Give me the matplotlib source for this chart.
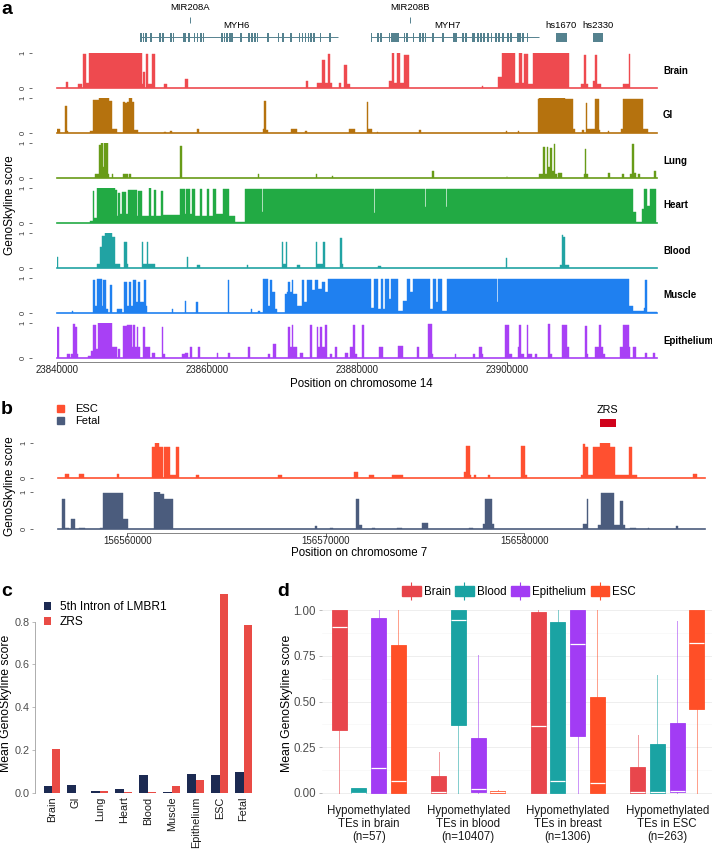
import matplotlib
matplotlib.use("Agg")
import matplotlib.pyplot as plt
from matplotlib.patches import Patch
from matplotlib.lines import Line2D
from matplotlib.legend_handler import HandlerTuple

# ---------------- panel a: chr14 window (segments: start kb, end kb, score; kb from A_START)
A_START = 23840000
A_END = 23920000
a_ticks = [23840000, 23860000, 23880000, 23900000]

brain_a = [(1.2, 1.5, 0.17), (2.8, 3.3, 0.12), (3.4, 3.9, 0.97), (3.9, 4.2, 0.15), (4.2, 11.3, 1.0),
           (11.3, 11.5, 0.1), (11.5, 11.7, 0.45), (11.8, 12.1, 0.98), (12.1, 12.6, 0.1), (12.6, 13.1, 0.98),
           (14.3, 14.6, 0.12), (17.1, 17.4, 0.25), (33.2, 33.5, 0.2), (34.6, 35.3, 0.15), (35.3, 35.7, 0.8),
           (35.7, 36.1, 0.15), (36.1, 36.4, 0.97), (36.4, 36.6, 0.15), (37.6, 37.9, 0.15), (38.3, 38.6, 0.65),
           (38.6, 39.0, 0.1), (44.3, 44.7, 0.2), (44.7, 44.9, 1.0), (44.9, 45.3, 0.15), (45.3, 45.7, 1.0),
           (45.7, 46.3, 0.15), (46.3, 46.9, 0.95), (56.7, 56.85, 0.04), (58.85, 59.3, 0.3), (59.3, 61.1, 1.0),
           (61.1, 61.65, 0.15), (61.65, 61.96, 1.0), (61.96, 62.2, 0.15), (62.2, 62.85, 0.97), (62.85, 63.4, 0.1),
           (63.4, 68.2, 1.0), (69.9, 70.2, 0.1), (70.2, 70.5, 0.95), (70.5, 70.85, 0.1), (71.4, 71.7, 0.2),
           (71.7, 71.96, 0.95), (71.96, 72.5, 0.1), (75.4, 76.2, 0.12), (76.2, 76.4, 0.97)]
gi_a = [(0.0, 0.4, 0.1), (1.07, 1.29, 0.78), (1.29, 1.5, 0.05), (4.4, 4.84, 0.05), (4.84, 5.64, 0.96),
        (5.64, 6.98, 1.0), (6.98, 7.38, 0.92), (7.38, 7.96, 0.1), (8.76, 9.07, 0.9), (9.07, 9.38, 0.85),
        (9.38, 9.64, 0.9), (9.64, 9.96, 1.0), (9.96, 10.27, 0.9), (10.27, 10.84, 0.08), (14.27, 14.49, 0.03),
        (15.07, 15.38, 0.06), (18.7, 18.9, 0.1), (27.5, 27.6, 0.1), (27.6, 27.8, 0.92), (27.8, 28.1, 0.07),
        (31.2, 31.96, 0.1), (33.07, 33.3, 0.05), (38.9, 39.7, 0.12), (41.3, 41.5, 0.9), (41.5, 41.96, 0.1),
        (42.7, 42.85, 0.03), (48.2, 48.5, 0.07), (59.8, 59.96, 0.05), (61.4, 61.56, 0.05), (64.1, 64.3, 0.97),
        (64.3, 67.7, 1.0), (67.7, 68.85, 0.97), (68.85, 69.0, 0.1), (69.96, 70.2, 0.08), (70.5, 70.7, 0.85),
        (70.7, 71.7, 0.1), (71.7, 72.2, 0.97), (72.2, 72.4, 0.08), (73.4, 73.65, 0.05), (75.2, 75.4, 0.1),
        (75.4, 78.1, 0.98), (78.1, 78.8, 0.12)]
lung_a = [(5.07, 5.64, 0.1), (5.64, 5.87, 0.95), (5.87, 6.09, 1.0), (6.09, 6.31, 0.3), (6.31, 6.84, 1.0),
          (6.84, 6.98, 0.1), (7.29, 7.51, 0.1), (8.84, 9.51, 0.1), (9.64, 9.87, 0.1), (16.44, 16.62, 0.93),
          (26.76, 26.93, 0.1), (34.53, 34.71, 0.1), (36.67, 36.8, 0.05), (50.0, 50.2, 0.2), (59.96, 60.05, 0.05),
          (64.27, 64.85, 0.1), (64.85, 65.07, 0.88), (65.07, 65.3, 0.1), (65.3, 65.5, 0.88), (65.5, 65.74, 0.3),
          (65.74, 65.96, 0.85), (65.96, 66.2, 0.2), (66.2, 66.4, 0.98), (66.4, 66.6, 0.1), (66.85, 67.3, 0.15),
          (70.2, 70.4, 0.1), (70.4, 70.55, 0.83), (70.55, 70.85, 0.1), (73.5, 73.74, 0.15), (75.3, 75.6, 0.1),
          (76.4, 76.6, 0.1), (76.6, 76.9, 0.98), (76.9, 77.2, 0.15), (77.5, 77.7, 0.1), (79.6, 79.8, 0.2)]
heart_a = [(4.4, 4.76, 0.05), (4.76, 4.93, 0.93), (4.93, 5.29, 0.15), (5.29, 7.73, 1.0), (7.73, 7.96, 0.95),
           (7.96, 8.18, 0.2), (8.18, 8.4, 0.87), (8.4, 8.62, 0.25), (8.62, 9.2, 0.88), (9.2, 9.51, 0.25),
           (9.51, 10.62, 0.96), (10.62, 10.84, 0.2), (10.84, 11.29, 0.93), (11.29, 12.27, 0.2), (12.27, 12.49, 1.0),
           (12.49, 12.93, 0.2), (12.93, 13.2, 0.95), (13.2, 13.82, 0.2), (13.82, 14.09, 0.93), (14.09, 16.4, 0.22),
           (16.4, 17.07, 0.97), (17.07, 17.2, 0.25), (17.2, 17.73, 0.97), (17.73, 17.96, 0.25), (17.96, 18.4, 0.97),
           (18.4, 19.07, 0.2), (19.07, 19.29, 0.97), (19.29, 19.96, 0.2), (19.96, 20.31, 0.97), (20.31, 20.84, 0.2),
           (20.84, 21.2, 0.97), (21.2, 22.09, 0.25), (22.09, 22.98, 0.97), (22.98, 23.73, 0.2), (23.73, 25.07, 0.02),
           (25.07, 27.29, 0.98), (27.29, 27.51, 0.3), (27.51, 42.3, 0.98), (42.3, 42.45, 0.27), (42.45, 49.1, 0.98),
           (49.1, 49.25, 0.45), (49.25, 51.8, 0.98), (51.8, 51.95, 0.45), (51.95, 76.85, 0.98), (76.85, 77.2, 0.3),
           (77.2, 77.96, 0.02), (77.96, 78.2, 0.4), (78.2, 78.6, 0.98), (78.6, 79.07, 0.5), (79.07, 79.87, 0.97)]
blood_a = [(0.0, 0.1, 0.3), (5.29, 5.73, 0.1), (5.73, 5.96, 0.6), (5.96, 6.4, 0.92), (6.4, 7.29, 1.0),
           (7.29, 7.73, 0.9), (7.73, 8.4, 0.1), (8.93, 9.38, 0.75), (9.38, 9.51, 0.1), (11.29, 11.51, 0.75),
           (11.51, 11.96, 0.1), (11.96, 12.18, 0.75), (12.18, 13.07, 0.1), (17.29, 17.47, 0.3), (18.62, 19.07, 0.08),
           (25.29, 25.51, 0.08), (29.96, 30.18, 0.75), (30.18, 30.53, 0.1), (30.53, 30.71, 0.75), (31.96, 32.4, 0.08),
           (34.53, 34.71, 0.75), (34.71, 35.51, 0.1), (35.51, 35.73, 0.75), (37.73, 37.96, 0.85), (37.96, 38.18, 0.1),
           (42.85, 43.2, 0.05), (59.87, 60.05, 0.28), (67.07, 67.3, 0.07), (67.3, 67.5, 0.95), (67.5, 67.74, 0.9),
           (67.74, 68.2, 0.07)]
muscle_a = [(1.96, 2.18, 0.05), (4.84, 5.07, 0.95), (5.07, 5.29, 0.2), (5.29, 5.96, 0.97), (5.96, 6.18, 0.2),
            (6.18, 6.53, 0.95), (6.53, 6.76, 0.1), (7.07, 7.29, 0.8), (7.96, 8.62, 0.1), (8.93, 9.29, 0.9),
            (9.29, 9.6, 0.2), (9.6, 9.87, 0.9), (9.87, 10.18, 0.2), (10.18, 10.53, 0.95), (10.53, 10.84, 0.3),
            (10.84, 11.07, 0.9), (11.07, 11.6, 0.3), (11.6, 11.87, 0.95), (11.87, 12.04, 0.2), (15.29, 15.42, 0.1),
            (17.07, 17.2, 0.35), (18.53, 18.8, 0.3), (22.76, 22.98, 0.95), (25.82, 25.96, 0.1), (26.84, 27.07, 0.05),
            (27.51, 28.18, 0.97), (28.18, 28.4, 0.2), (28.4, 28.62, 0.95), (28.62, 29.07, 0.6), (29.07, 29.38, 0.1),
            (30.4, 30.62, 0.55), (30.62, 30.84, 0.6), (30.84, 31.07, 0.9), (31.07, 31.29, 0.6), (31.29, 31.51, 0.95),
            (31.51, 31.96, 0.55), (31.96, 32.62, 0.2), (32.62, 32.93, 0.95), (32.93, 33.29, 0.3), (33.29, 33.96, 0.95),
            (33.96, 34.4, 0.65), (34.4, 34.84, 0.95), (34.84, 35.29, 0.7), (35.29, 35.73, 0.9), (35.73, 36.18, 0.6),
            (36.18, 41.8, 0.97), (41.8, 42.27, 0.15), (42.27, 42.8, 0.97), (42.8, 43.16, 0.1), (43.16, 43.51, 0.97),
            (43.51, 43.78, 0.1), (43.78, 44.31, 0.97), (44.31, 44.58, 0.4), (44.58, 45.51, 0.97), (45.51, 46.18, 0.05),
            (46.18, 46.71, 0.35), (46.71, 47.07, 0.97), (47.07, 47.42, 0.6), (47.42, 49.73, 0.97), (49.73, 50.18, 0.1),
            (50.18, 50.53, 0.97), (50.53, 50.85, 0.3), (50.85, 51.3, 0.97), (51.3, 52.05, 0.05), (52.05, 58.6, 0.97),
            (58.6, 58.85, 0.3), (58.85, 76.2, 0.97), (76.2, 76.85, 0.2), (76.85, 78.2, 0.05), (78.2, 78.4, 0.15),
            (78.4, 78.7, 0.95), (78.7, 79.96, 0.02)]
epithelium_a = [(0.04, 0.31, 0.9), (1.29, 1.73, 0.1), (1.82, 2.09, 0.1), (2.18, 2.4, 0.98), (2.4, 2.62, 0.9),
                (2.62, 2.84, 0.1), (4.18, 4.49, 0.05), (4.49, 4.76, 0.2), (4.76, 5.2, 0.95), (5.2, 5.51, 0.25),
                (5.51, 7.29, 1.0), (7.29, 7.96, 0.3), (8.18, 8.4, 0.25), (8.84, 9.29, 0.91), (9.29, 9.96, 0.95),
                (9.96, 10.18, 0.3), (10.18, 10.4, 0.95), (10.4, 10.62, 0.3), (10.62, 10.84, 0.9), (10.84, 11.07, 0.3),
                (11.51, 11.73, 0.9), (11.73, 12.4, 0.3), (12.62, 13.07, 0.15), (13.96, 14.18, 0.9), (14.18, 14.4, 0.1),
                (16.62, 17.07, 0.1), (17.07, 17.51, 0.15), (17.73, 17.96, 0.3), (18.84, 19.07, 0.3), (21.29, 21.51, 0.15),
                (22.84, 23.07, 0.15), (25.51, 25.73, 0.3), (28.18, 28.4, 0.1), (28.84, 29.2, 0.4), (30.84, 31.07, 0.9),
                (31.07, 31.29, 0.3), (31.29, 31.51, 0.95), (31.51, 31.96, 0.3), (32.4, 32.84, 0.15), (33.73, 33.96, 0.95),
                (34.62, 34.84, 0.9), (34.84, 35.07, 0.3), (35.07, 35.29, 0.9), (35.29, 35.73, 0.3), (35.73, 35.96, 0.95),
                (36.4, 36.62, 0.1), (37.07, 37.29, 0.3), (38.4, 38.84, 0.15), (39.07, 39.5, 0.3), (39.5, 39.7, 0.95),
                (39.7, 39.96, 0.1), (40.6, 40.9, 0.95), (42.98, 43.51, 0.3), (45.51, 46.18, 0.35), (47.96, 48.3, 0.3),
                (49.4, 49.96, 0.97), (49.96, 50.18, 0.1), (53.07, 53.2, 0.1), (55.5, 55.74, 0.1), (56.3, 56.6, 0.3),
                (56.6, 56.85, 0.1), (59.74, 60.3, 0.95), (60.3, 60.6, 0.1), (61.4, 61.6, 0.3), (61.6, 61.83, 0.95),
                (61.83, 62.2, 0.1), (62.6, 62.85, 0.95), (62.85, 63.3, 0.1), (63.74, 63.96, 0.1), (65.5, 65.74, 0.97),
                (65.74, 65.96, 0.1), (67.3, 67.96, 0.96), (67.96, 68.2, 0.3), (70.4, 70.6, 0.92), (70.6, 70.85, 0.1),
                (71.74, 72.2, 0.3), (72.2, 72.5, 0.95), (72.5, 72.76, 0.3), (72.85, 73.07, 0.1), (75.07, 75.5, 0.3),
                (75.5, 76.2, 0.96), (76.2, 76.4, 0.3), (76.85, 77.2, 0.3), (78.4, 78.6, 0.15), (79.5, 79.74, 0.15)]

a_names = ['Brain', 'GI', 'Lung', 'Heart', 'Blood', 'Muscle', 'Epithelium']
a_series = [brain_a, gi_a, lung_a, heart_a, blood_a, muscle_a, epithelium_a]
a_colors = ['#EE4A4F', '#B5720E', '#689B18', '#22AA44', '#21A3A3', '#1F80F0', '#A840F5']

# gene annotation (bp)
myh6_span = (23851000, 23877500)
myh6_exons = [23851100, 23851400, 23851700, 23852400, 23853600, 23854000, 23855100, 23855400, 23856800,
              23857000, 23857500, 23858200, 23858600, 23859100, 23859400, 23861900, 23862200, 23862500,
              23862900, 23863200, 23864400, 23865500, 23865900, 23866300, 23866600, 23868000, 23869400,
              23870000, 23871100, 23872200, 23872600, 23873000, 23873400, 23873700, 23874100, 23875000, 23876300]
myh7_span = (23881800, 23904300)
myh7_exons = [23881800, 23882700, 23883100, 23884200, 23884500, 23884800, 23885100, 23885300, 23886200,
              23886500, 23887400, 23888300, 23888700, 23889000, 23890000, 23891300, 23892800, 23893100,
              23894000, 23894400, 23895300, 23895500, 23896000, 23896400, 23896800, 23897300, 23897800,
              23898400, 23898800, 23899300, 23900000, 23900400, 23901300, 23901600, 23902000, 23902600]
gene_names = ['MYH6', 'MYH7']
gene_label_pos = [23863900, 23892100]
mir_names = ['MIR208A', 'MIR208B']
mir_pos = [23857700, 23887100]
enh_names = ['hs1670', 'hs2330']
enh_start = [23906500, 23911500]
enh_end = [23908000, 23912800]

# ---------------- panel b: chr7 window (kb from B_REF)
B_REF = 156560000
B_START = 156556500
B_END = 156589100
b_ticks = [156560000, 156570000, 156580000]
esc_b = [(-3.15, -2.95, 0.12), (-2.43, -2.18, 0.12), (-0.54, -0.44, 0.12), (1.26, 1.39, 0.87), (1.39, 1.61, 1.0),
         (1.61, 1.81, 0.87), (1.85, 2.12, 0.87), (2.12, 2.45, 0.09), (2.45, 2.62, 0.87), (3.43, 3.59, 0.08),
         (7.61, 7.78, 0.08), (11.39, 11.64, 0.17), (12.19, 12.4, 0.08), (13.32, 13.9, 0.08), (16.98, 17.06, 0.17),
         (17.06, 17.26, 0.92), (17.26, 17.31, 0.1), (17.46, 17.56, 0.1), (18.19, 18.27, 0.1), (19.82, 20.03, 0.92),
         (20.03, 20.12, 0.08), (22.85, 22.97, 0.08), (22.97, 23.06, 0.97), (23.06, 23.22, 0.88), (23.22, 23.44, 0.08),
         (23.44, 23.81, 0.88), (23.81, 24.31, 1.0), (24.31, 24.57, 0.88), (24.57, 25.29, 0.08), (25.29, 25.42, 0.88),
         (25.42, 25.66, 0.08), (28.51, 28.68, 0.12)]
fetal_b = [(-3.31, -3.14, 0.81), (-3.14, -2.94, 0.03), (-2.84, -2.64, 0.26), (-2.43, -2.13, 0.03), (-1.38, -1.21, 0.02),
           (-1.21, -0.2, 0.99), (-0.2, 0.05, 0.27), (1.36, 1.65, 1.0), (1.65, 1.85, 0.95), (1.85, 2.28, 0.81),
           (9.47, 9.54, 0.08), (10.18, 10.38, 0.03), (11.49, 11.69, 0.81), (11.69, 11.8, 0.1), (12.31, 12.48, 0.03),
           (13.57, 13.82, 0.03), (14.83, 15.12, 0.15), (17.23, 17.39, 0.03), (17.93, 18.02, 0.12), (18.02, 18.35, 0.81),
           (18.35, 18.47, 0.12), (22.94, 23.14, 0.12), (23.14, 23.21, 0.81), (23.73, 23.86, 0.1), (23.86, 24.53, 0.99),
           (24.53, 24.82, 0.1), (24.82, 24.99, 0.76), (24.99, 25.05, 0.1), (25.32, 25.61, 0.03), (26.21, 26.29, 0.03),
           (27.64, 27.72, 0.08)]
b_names = ['ESC', 'Fetal']
b_series = [esc_b, fetal_b]
b_colors = ['#FF5030', '#4B5C7D']
zrs_span = (156583800, 156584600)

# ---------------- panel c
c_tissues = ['Brain', 'GI', 'Lung', 'Heart', 'Blood', 'Muscle', 'Epithelium', 'ESC', 'Fetal']
lmbr1_intron = [0.033, 0.037, 0.011, 0.019, 0.084, 0.006, 0.088, 0.085, 0.096]
zrs_score = [0.207, 0.001, 0.011, 0.005, 0.003, 0.033, 0.060, 0.929, 0.785]
c_labels = ['5th Intron of LMBR1', 'ZRS']
c_colors = ['#1C2A52', '#E94B45']

# ---------------- panel d (rows: TE sets, cols: Brain, Blood, Epithelium, ESC)
d_groups = ['Hypomethylated\nTEs in brain\n(n=57)', 'Hypomethylated\nTEs in blood\n(n=10407)',
            'Hypomethylated\nTEs in breast\n(n=1306)', 'Hypomethylated\nTEs in ESC\n(n=263)']
d_tissues = ['Brain', 'Blood', 'Epithelium', 'ESC']
d_colors = ['#E8464C', '#1AA3A3', '#A23CF4', '#FF4F27']
d_q1 = [[0.345, 0.0, 0.0, 0.0], [0.0, 0.37, 0.005, 0.0], [0.0, 0.0, 0.31, 0.0], [0.0, 0.0, 0.005, 0.46]]
d_med = [[0.905, 0.0, 0.135, 0.063], [0.003, 0.948, 0.02, 0.003], [0.365, 0.065, 0.815, 0.055], [0.003, 0.002, 0.012, 0.82]]
d_q3 = [[1.0, 0.025, 0.955, 0.81], [0.09, 1.0, 0.30, 0.01], [0.99, 0.935, 1.0, 0.525], [0.14, 0.27, 0.38, 1.0]]
d_lo = [[0.0, 0.0, 0.0, 0.0], [0.0, 0.0, 0.0, 0.0], [0.0, 0.0, 0.0, 0.0], [0.0, 0.0, 0.0, 0.0]]
d_hi = [[1.0, 0.025, 1.0, 1.0], [0.225, 1.0, 0.755, 0.018], [1.0, 1.0, 1.0, 1.0], [0.315, 0.645, 0.94, 1.0]]

W, H = 712, 849
plt.rcParams.update({'font.family': ['Liberation Sans', 'DejaVu Sans'], 'font.size': 8})
fig = plt.figure(figsize=(W / 100, H / 100), dpi=100)


def px_axes(x0, y0, x1, y1):
    return fig.add_axes([x0 / W, 1 - y1 / H, (x1 - x0) / W, (y1 - y0) / H])


def fig_text(x, y, s, **kw):
    return fig.text(x / W, 1 - y / H, s, **kw)


def draw_track(ax, segs, ref, color, xlim):
    starts = [ref + s * 1000 for s, e, v in segs]
    widths = [(e - s) * 1000 for s, e, v in segs]
    scores = [v for s, e, v in segs]
    ax.bar(starts, scores, width=widths, align='edge', color=color, edgecolor=color, linewidth=0.3)
    ax.axhline(0, color=color, lw=1.2, clip_on=False)
    ax.set_xlim(*xlim)
    ax.set_ylim(0, 1)
    for s in ('top', 'right', 'bottom'):
        ax.spines[s].set_visible(False)
    ax.spines['left'].set_position(('outward', 18))
    ax.spines['left'].set_visible(False)
    ax.set_yticks([0, 1])
    ax.set_yticklabels(['0', '1'], rotation=90, va='center', fontsize=5.5)
    ax.tick_params(axis='y', length=2.2, width=0.5, pad=1.5, colors='#333333')
    ax.set_xticks([])
    ax.patch.set_alpha(0)


def bottom_axis(ax, ticks, lo, hi):
    ax.spines['bottom'].set_visible(True)
    ax.spines['bottom'].set_position(('outward', 3))
    ax.spines['bottom'].set_bounds(lo, hi)
    ax.spines['bottom'].set_linewidth(0.5)
    ax.spines['bottom'].set_color('#555555')
    ax.set_xticks(ticks)
    ax.set_xticklabels([str(t) for t in ticks], fontsize=7)
    ax.tick_params(axis='x', length=3, width=0.5, pad=-1, colors='#222222')


# ---- panel a
ax_g = px_axes(57, 0, 657, 48)
ax_g.set_xlim(A_START, A_END)
ax_g.set_ylim(48, 0)
ax_g.axis('off')
gene_col = '#55828F'
for span, exons in ((myh6_span, myh6_exons), (myh7_span, myh7_exons)):
    ax_g.hlines(37, span[0], span[1], color=gene_col, lw=0.7)
    ax_g.bar(exons, 9, width=260, bottom=32.5, align='edge', color=gene_col, linewidth=0)
ax_g.bar(enh_start, 9, width=[e - s for s, e in zip(enh_start, enh_end)], bottom=32.5, align='edge',
         color=gene_col, linewidth=0)
for name, pos in zip(gene_names, gene_label_pos):
    ax_g.text(pos, 25, name, ha='center', va='center', fontsize=6.8)
for name, pos in zip(mir_names, mir_pos):
    ax_g.text(pos, 8, name, ha='center', va='center', fontsize=6.8)
    ax_g.vlines(pos, 17, 23, color=gene_col, lw=0.7)
for name, s, e in zip(enh_names, enh_start, enh_end):
    ax_g.text((s + e) / 2, 25, name, ha='center', va='center', fontsize=6.8)

for i, (name, segs, col) in enumerate(zip(a_names, a_series, a_colors)):
    ax = px_axes(57, 53.3 + 45 * i, 657, 87.7 + 45 * i)
    draw_track(ax, segs, A_START, col, (A_START, A_END))
    ax.text(1.01, 0.5, name, transform=ax.transAxes, ha='left', va='center', fontsize=7, fontweight='bold')
    if i == len(a_names) - 1:
        bottom_axis(ax, a_ticks, a_ticks[0], a_ticks[-1])

fig_text(361, 384, 'Position on chromosome 14', ha='center', va='center', fontsize=8.3)
fig_text(10, 205, 'GenoSkyline score', ha='center', va='center', rotation=90, fontsize=8.6)
fig_text(1, 9, 'a', ha='left', va='center', fontsize=14, fontweight='bold')

# ---- panel b
for i, (name, segs, col) in enumerate(zip(b_names, b_series, b_colors)):
    ax = px_axes(58, 442.7 + 49.6 * i, 705, 478.3 + 50.4 * i)
    draw_track(ax, segs, B_REF, col, (B_START, B_END))
    if i == 1:
        bottom_axis(ax, b_ticks, b_ticks[0], b_ticks[-1])

ax_z = px_axes(58, 402, 705, 430)
ax_z.set_xlim(B_START, B_END)
ax_z.set_ylim(0, 1)
ax_z.axis('off')
ax_z.bar([zrs_span[0]], [0.3], width=[zrs_span[1] - zrs_span[0]], bottom=0.1, align='edge',
         color='#D0021B', linewidth=0)
ax_z.text(sum(zrs_span) / 2, 0.7, 'ZRS', ha='center', va='center', fontsize=7.8)

fig.legend([Patch(color=c) for c in b_colors], b_names, loc='upper left', bbox_to_anchor=(57 / W, 1 - 404 / H),
           frameon=False, fontsize=8, handlelength=0.6, handleheight=0.6, handletextpad=1.0, labelspacing=0.2,
           borderpad=0, borderaxespad=0)
fig_text(359, 553, 'Position on chromosome 7', ha='center', va='center', fontsize=8.3)
fig_text(10, 486, 'GenoSkyline score', ha='center', va='center', rotation=90, fontsize=8.6)
fig_text(1, 410, 'b', ha='left', va='center', fontsize=14, fontweight='bold')

# ---- panel c
ax_c = px_axes(35, 594, 260.4, 793)
pos = list(range(1, len(c_tissues) + 1))
bw = 0.345
ax_c.bar([p - bw / 2 for p in pos], lmbr1_intron, width=bw, color=c_colors[0], label=c_labels[0])
ax_c.bar([p + bw / 2 for p in pos], zrs_score, width=bw, color=c_colors[1], label=c_labels[1])
ax_c.set_xlim(0.3, 9.7)
ax_c.set_ylim(0, 0.929)
ax_c.set_yticks([0, 0.2, 0.4, 0.6, 0.8])
ax_c.set_yticklabels(['0.0', '0.2', '0.4', '0.6', '0.8'], fontsize=7.8, color='#4D4D4D')
ax_c.set_xticks(pos)
ax_c.set_xticklabels(c_tissues, rotation=90, fontsize=7.8, color='#1A1A1A')
ax_c.tick_params(axis='x', length=0, pad=2.5)
ax_c.tick_params(axis='y', length=2.5, width=0.5, color='#A0A0A0', pad=1.5)
for s in ('top', 'right', 'bottom'):
    ax_c.spines[s].set_visible(False)
ax_c.spines['left'].set_color('#A0A0A0')
ax_c.spines['left'].set_linewidth(0.6)
ax_c.spines['left'].set_bounds(0, 0.8)
ax_c.legend(loc='upper left', bbox_to_anchor=(44 / W, 1 - 601 / H), bbox_transform=fig.transFigure,
            frameon=False, fontsize=8.6, handlelength=0.6, handleheight=0.6, handletextpad=0.7,
            labelspacing=0.25, borderpad=0, borderaxespad=0)
fig_text(6.5, 703, 'Mean GenoSkyline score', ha='center', va='center', rotation=90, fontsize=8.8)
fig_text(1, 592, 'c', ha='left', va='center', fontsize=14, fontweight='bold')

# ---- panel d
ax_d = px_axes(322, 601, 712, 802)
step, bwid = 0.198, 0.15
for k, (tissue, col) in enumerate(zip(d_tissues, d_colors)):
    stats = []
    for g in range(len(d_groups)):
        stats.append(dict(med=d_med[g][k], q1=d_q1[g][k], q3=d_q3[g][k],
                          whislo=d_lo[g][k], whishi=d_hi[g][k], fliers=[]))
    positions = [g + 1 + (k - 1.5) * step for g in range(len(d_groups))]
    ax_d.bxp(stats, positions=positions, widths=bwid, patch_artist=True, showcaps=False, showfliers=False,
             boxprops=dict(facecolor=col, edgecolor=col, linewidth=0.6),
             medianprops=dict(color='white', linewidth=0.9),
             whiskerprops=dict(color=col, alpha=0.55, linewidth=0.7), manage_ticks=False)
ax_d.set_xlim(0.53, 4.45)
ax_d.set_ylim(-0.05, 1.05)
ax_d.set_yticks([0, 0.25, 0.5, 0.75, 1.0])
ax_d.set_yticklabels(['0.00', '0.25', '0.50', '0.75', '1.00'], fontsize=8.3, color='#4D4D4D')
ax_d.set_yticks([0.125, 0.375, 0.625, 0.875], minor=True)
ax_d.grid(axis='y', which='major', color='#EBEBEB', lw=0.6)
ax_d.grid(axis='y', which='minor', color='#F5F5F5', lw=0.4)
ax_d.set_axisbelow(True)
ax_d.set_xticks([1, 2, 3, 4])
ax_d.set_xticklabels(d_groups, fontsize=8.3, color='#1A1A1A', linespacing=1.15)
ax_d.tick_params(axis='x', length=0, pad=2)
ax_d.tick_params(axis='y', which='major', length=2.5, width=0.5, color='#A0A0A0', pad=2)
ax_d.tick_params(axis='y', which='minor', length=0)
for s in ax_d.spines.values():
    s.set_visible(False)

handles = [(Patch(facecolor=c, edgecolor=c),
            Line2D([], [], color=c, marker='|', markersize=13, markeredgewidth=0.8, linestyle='None'))
           for c in d_colors]
fig.legend(handles, d_tissues, handler_map={tuple: HandlerTuple(ndivide=1, pad=0)}, ncol=4, loc='center',
           bbox_to_anchor=(519 / W, 1 - 592 / H), frameon=False, fontsize=8.3, handlelength=1.6,
           handleheight=0.9, handletextpad=0.25, columnspacing=0.4, borderpad=0, borderaxespad=0)
fig_text(287, 703, 'Mean GenoSkyline score', ha='center', va='center', rotation=90, fontsize=8.8)
fig_text(277, 592, 'd', ha='left', va='center', fontsize=14, fontweight='bold')

fig.savefig('out.png', dpi=100)
